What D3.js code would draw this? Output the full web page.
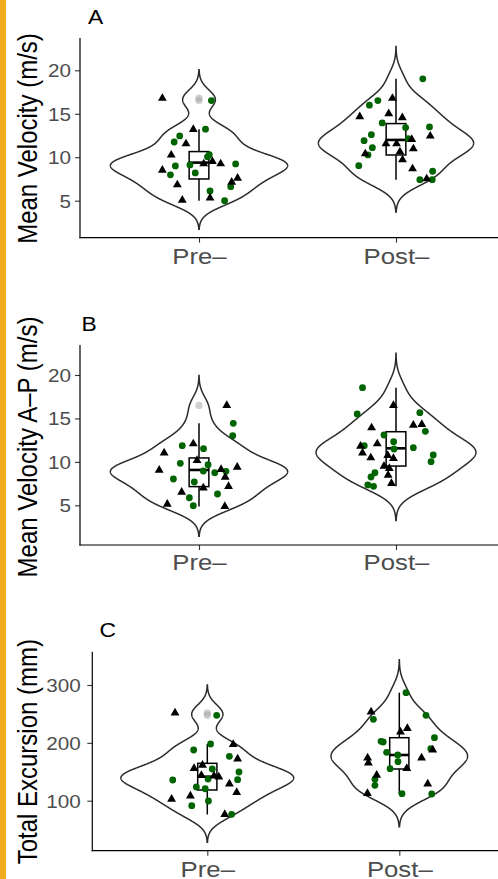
<!DOCTYPE html>
<html><head><meta charset="utf-8">
<script src="https://cdn.jsdelivr.net/npm/d3@7"></script>
<style>
body{margin:0;background:#fff}
svg{display:block}
text{font-family:"Liberation Sans",Arial,Helvetica,sans-serif}
</style>
</head><body>
<svg id="chart" width="498" height="879"></svg>
<script>
// ---------------- DATA ----------------
const categories = ["Pre–", "Post–"];
// points: [value, horizontal jitter in category units]
const velPreTri  = [[16.78,-0.186],[13.21,-0.029],[11.55,-0.066],[10.25,-0.141],[8.52,-0.186],[6.83,-0.110],[5.07,-0.085],[5.33,0.056],[9.25,0.024],[9.52,0.068],[9.25,0.110],[7.14,0.166],[7.60,0.196]];
const velPreDot  = [[16.52,0.063],[13.23,0.033],[12.45,-0.098],[11.75,-0.126],[9.0,-0.120],[7.98,-0.145],[9.11,-0.046],[8.19,-0.019],[10.3,0.052],[10.05,0.043],[9.23,0.186],[6.61,0.161],[6.12,0.056],[5.0,0.130]];
const velPostTri = [[16.78,-0.018],[14.66,-0.184],[15.01,-0.037],[14.55,0.032],[11.55,-0.051],[11.55,0.003],[10.40,-0.156],[10.63,0.020],[12.06,0.080],[10.97,0.088],[9.71,0.033],[8.67,0.084],[12.44,0.174],[7.52,0.156]];
const velPostDot = [[19.02,0.136],[16.52,-0.092],[15.99,-0.135],[13.95,-0.070],[12.6,-0.125],[11.91,-0.162],[11.1,-0.120],[10.26,-0.142],[9.03,-0.189],[13.41,0.049],[12.14,0.062],[13.49,0.170],[8.39,0.186],[7.42,0.121],[7.42,0.184]];

const apPreTri  = [[16.50,0.141],[11.04,-0.177],[12.08,-0.029],[9.05,-0.202],[10.17,-0.010],[9.13,0.112],[8.24,0.133],[9.39,0.194],[7.17,0.150],[7.01,0.022],[6.52,-0.088],[5.13,-0.161],[4.87,0.131]];
const apPreDot  = [[14.44,0.174],[13.01,0.171],[11.86,-0.085],[11.52,0.023],[9.83,-0.095],[9.67,0.046],[8.95,0.022],[8.75,0.080],[8.91,0.137],[8.03,-0.130],[7.68,-0.024],[6.3,0.094],[5.87,-0.049],[4.95,-0.029]];
const apPostTri = [[16.50,-0.013],[13.92,-0.124],[14.23,0.088],[14.31,0.131],[12.08,-0.095],[11.81,-0.180],[11.04,-0.170],[10.47,-0.128],[10.74,-0.042],[10.40,-0.013],[9.51,-0.061],[9.24,-0.034],[8.47,-0.040],[7.52,-0.023]];
const apPostDot = [[18.54,-0.170],[15.51,-0.197],[15.66,0.121],[13.52,0.149],[13.09,-0.061],[12.32,-0.012],[11.86,-0.161],[11.63,0.088],[11.48,-0.010],[10.79,0.189],[10.02,0.178],[8.75,-0.107],[8.26,-0.127],[7.34,-0.143],[7.19,-0.114]];

const excPreTri  = [[251.8,-0.168],[197.2,0.135],[172.3,0.158],[155.7,-0.069],[161.4,-0.025],[143.6,-0.031],[143.0,0.035],[141.2,0.060],[129.1,0.115],[114.2,0.153],[108.4,-0.088],[102.7,-0.186],[76.2,0.091]];
const excPreDot  = [[247.6,0.049],[198.0,0.017],[187.6,-0.071],[176.7,0.115],[149.6,0.165],[154.8,0.026],[136.3,0.158],[137.5,0.004],[135.8,-0.180],[123.7,-0.057],[120.7,-0.011],[99.5,0.006],[91.4,-0.081],[76.5,0.127]];
const excPostTri = [[253.6,-0.147],[219.0,0.006],[224.9,0.042],[187.9,0.174],[174.1,0.116],[174.1,-0.165],[165.4,-0.161],[144.2,-0.118],[155.7,0.039],[129.1,0.148],[112.5,-0.166]];
const excPostDot = [[286.7,0.035],[240.7,-0.135],[247.6,0.139],[208.9,0.183],[189.9,0.164],[202.7,-0.095],[201.5,-0.084],[183.7,-0.066],[179.0,-0.008],[167.4,-0.007],[155.3,-0.048],[137.0,-0.127],[126.6,-0.127],[112.1,0.014],[111.6,0.169]];

// box summaries [q1, median, q3]
const velPreBox = [7.5, 9.38, 10.65],  velPostBox = [10.26, 11.99, 13.87];
const apPreBox  = [7.15, 9.07, 10.45], apPostBox  = [9.52, 11.56, 13.47];
const excPreBox = [118.5, 141.5, 164.6], excPostBox = [154.8, 179.0, 208.9];

const velTicks = [5, 10, 15, 20];
const excTicks = [100, 200, 300];

const panelTitles = ["A", "B", "C"];
const yTitles = ["Mean Velocity (m/s)", "Mean Velocity A–P (m/s)", "Total Excursion (mm)"];

// ---------------- LAYOUT ----------------
const TXS = 1.17; // horizontal stretch of text glyphs
const panels = [
  {title:panelTitles[0], tx:88, ty:23.5, yTitle:yTitles[0], yTitleY:138.5, axX:80, top:38, bottom:237.7,
   dom:[5,20], rng:[200.7,70.3], xs:[199,396], ticks:velTicks, tickPad:4, xLabY:264,
   groups:[{tri:velPreTri,dot:velPreDot,box:velPreBox},{tri:velPostTri,dot:velPostDot,box:velPostBox}]},
  {title:panelTitles[1], tx:81.5, ty:330.5, yTitle:yTitles[1], yTitleY:447, axX:80, top:345, bottom:545,
   dom:[5,20], rng:[505.3,375], xs:[199,396], ticks:velTicks, tickPad:4, xLabY:570,
   groups:[{tri:apPreTri,dot:apPreDot,box:apPreBox},{tri:apPostTri,dot:apPostDot,box:apPostBox}]},
  {title:panelTitles[2], tx:99.5, ty:637, yTitle:yTitles[2], yTitleY:751.7, axX:92.3, top:651.7, bottom:850.7,
   dom:[100,300], rng:[800.7,685], xs:[207.3,399.3], ticks:excTicks, tickPad:6.5, xLabY:877,
   groups:[{tri:excPreTri,dot:excPreDot,box:excPreBox},{tri:excPostTri,dot:excPostDot,box:excPostBox}]}
];

const svg = d3.select("#chart");
svg.append("rect").attr("width",498).attr("height",879).attr("fill","#fff");
svg.append("rect").attr("x",0).attr("y",0).attr("width",6).attr("height",879).attr("fill","#f0ac1e");

// Gaussian KDE, bandwidth by Silverman's rule (nrd0) using the box IQR
function kde(values, box){
  const v = values.slice().sort(d3.ascending);
  const n = v.length;
  const sd = d3.deviation(v);
  const iqr = box[2] - box[0];
  const bw = 0.9 * Math.min(sd, iqr/1.34) * Math.pow(n, -0.2);
  const lo = v[0] - 3*bw, hi = v[n-1] + 3*bw;
  const grid = d3.range(512).map(i => lo + (hi-lo)*i/511);
  const c = 1/(bw*Math.sqrt(2*Math.PI));
  return grid.map(g => [g, c * d3.mean(v, x => Math.exp(-0.5*((g-x)/bw)**2))]);
}

panels.forEach(P => {
  const g = svg.append("g");
  const y = d3.scaleLinear().domain(P.dom).range(P.rng);
  const x = d3.scalePoint().domain(categories).range(P.xs).padding(0);
  const step = x.step();

  // violins
  const dens = P.groups.map(gr => kde(gr.tri.concat(gr.dot).map(d => d[0]), gr.box));
  const maxD = d3.max(dens, d => d3.max(d, e => e[1]));
  const line = d3.line();
  dens.forEach((dd, i) => {
    const cx = x(categories[i]);
    const right = dd.map(([v, d]) => [cx + d/maxD*0.45*step, y(v)]);
    const left = dd.slice().reverse().map(([v, d]) => [cx - d/maxD*0.45*step, y(v)]);
    g.append("path").attr("d", line(right.concat(left)) + "Z")
      .attr("fill","#fff").attr("stroke","#2b2b2b").attr("stroke-width",1.5);
  });

  // boxplots
  P.groups.forEach((gr, i) => {
    const cx = x(categories[i]);
    const vals = gr.tri.concat(gr.dot).map(d => d[0]);
    const [q1, med, q3] = gr.box;
    const iqr = q3 - q1;
    const inside = vals.filter(v => v >= q1 - 1.5*iqr && v <= q3 + 1.5*iqr);
    const wLo = d3.min(inside), wHi = d3.max(inside);
    const outs = vals.filter(v => v < q1 - 1.5*iqr || v > q3 + 1.5*iqr);
    const hw = 0.05*step;
    g.append("line").attr("x1",cx).attr("x2",cx).attr("y1",y(q3)).attr("y2",y(wHi)).attr("stroke","#000").attr("stroke-width",1.5);
    g.append("line").attr("x1",cx).attr("x2",cx).attr("y1",y(q1)).attr("y2",y(wLo)).attr("stroke","#000").attr("stroke-width",1.5);
    g.append("rect").attr("x",cx-hw).attr("width",2*hw).attr("y",y(q3)).attr("height",y(q1)-y(q3))
      .attr("fill","#fff").attr("stroke","#000").attr("stroke-width",1.5);
    g.append("line").attr("x1",cx-hw).attr("x2",cx+hw).attr("y1",y(med)).attr("y2",y(med)).attr("stroke","#000").attr("stroke-width",2.6);
    outs.forEach(v => g.append("circle").attr("cx",cx).attr("cy",y(v)).attr("r",3.7).attr("fill","#999").attr("fill-opacity",0.45));
  });

  // jittered points
  P.groups.forEach((gr, i) => {
    const cx = x(categories[i]);
    g.selectAll(null).data(gr.dot).enter().append("circle")
      .attr("cx", d => cx + d[1]*step).attr("cy", d => y(d[0])).attr("r",3.4).attr("fill","#006400");
    g.selectAll(null).data(gr.tri).enter().append("path")
      .attr("d", d3.symbol().type(d3.symbolTriangle).size(34)())
      .attr("transform", d => `translate(${cx + d[1]*step},${y(d[0])})`).attr("fill","#000");
  });

  // y axis
  const ya = g.append("g").attr("transform",`translate(${P.axX},0)`)
    .call(d3.axisLeft(y).tickValues(P.ticks).tickSize(5).tickPadding(P.tickPad));
  ya.select(".domain").remove();
  ya.selectAll(".tick line").attr("stroke","#333").attr("stroke-width",1.1);
  ya.selectAll(".tick text").attr("x", -(5+P.tickPad)/TXS).attr("dy","0.36em")
    .attr("transform",`scale(${TXS},1)`).attr("fill","#4d4d4d").style("font-size","17.7px").style("font-family",null);

  // x axis
  const xa = g.append("g").attr("transform",`translate(0,${P.bottom})`)
    .call(d3.axisBottom(x).tickSize(5));
  xa.select(".domain").remove();
  xa.selectAll(".tick line").attr("stroke","#333").attr("stroke-width",1.1);
  xa.selectAll(".tick text").attr("y", P.xLabY - P.bottom).attr("dy",0)
    .attr("transform",`scale(${TXS},1)`).attr("fill","#4d4d4d").style("font-size","22px").style("font-family",null);

  // axis lines
  g.append("line").attr("x1",P.axX).attr("x2",P.axX).attr("y1",P.top).attr("y2",P.bottom+0.6)
    .attr("stroke","#000").attr("stroke-width",1.2);
  g.append("line").attr("x1",P.axX-0.6).attr("x2",498).attr("y1",P.bottom).attr("y2",P.bottom)
    .attr("stroke","#000").attr("stroke-width",1.2);

  // titles
  g.append("text").attr("transform",`translate(${P.tx},${P.ty}) scale(${TXS},1)`)
    .style("font-size","19.5px").attr("fill","#000").text(P.title);
  g.append("text").attr("transform",`translate(36.7,${P.yTitleY}) scale(${TXS},1) rotate(-90)`)
    .attr("text-anchor","middle").style("font-size","24px").attr("fill","#000").text(P.yTitle);
});
</script>
</body></html>
